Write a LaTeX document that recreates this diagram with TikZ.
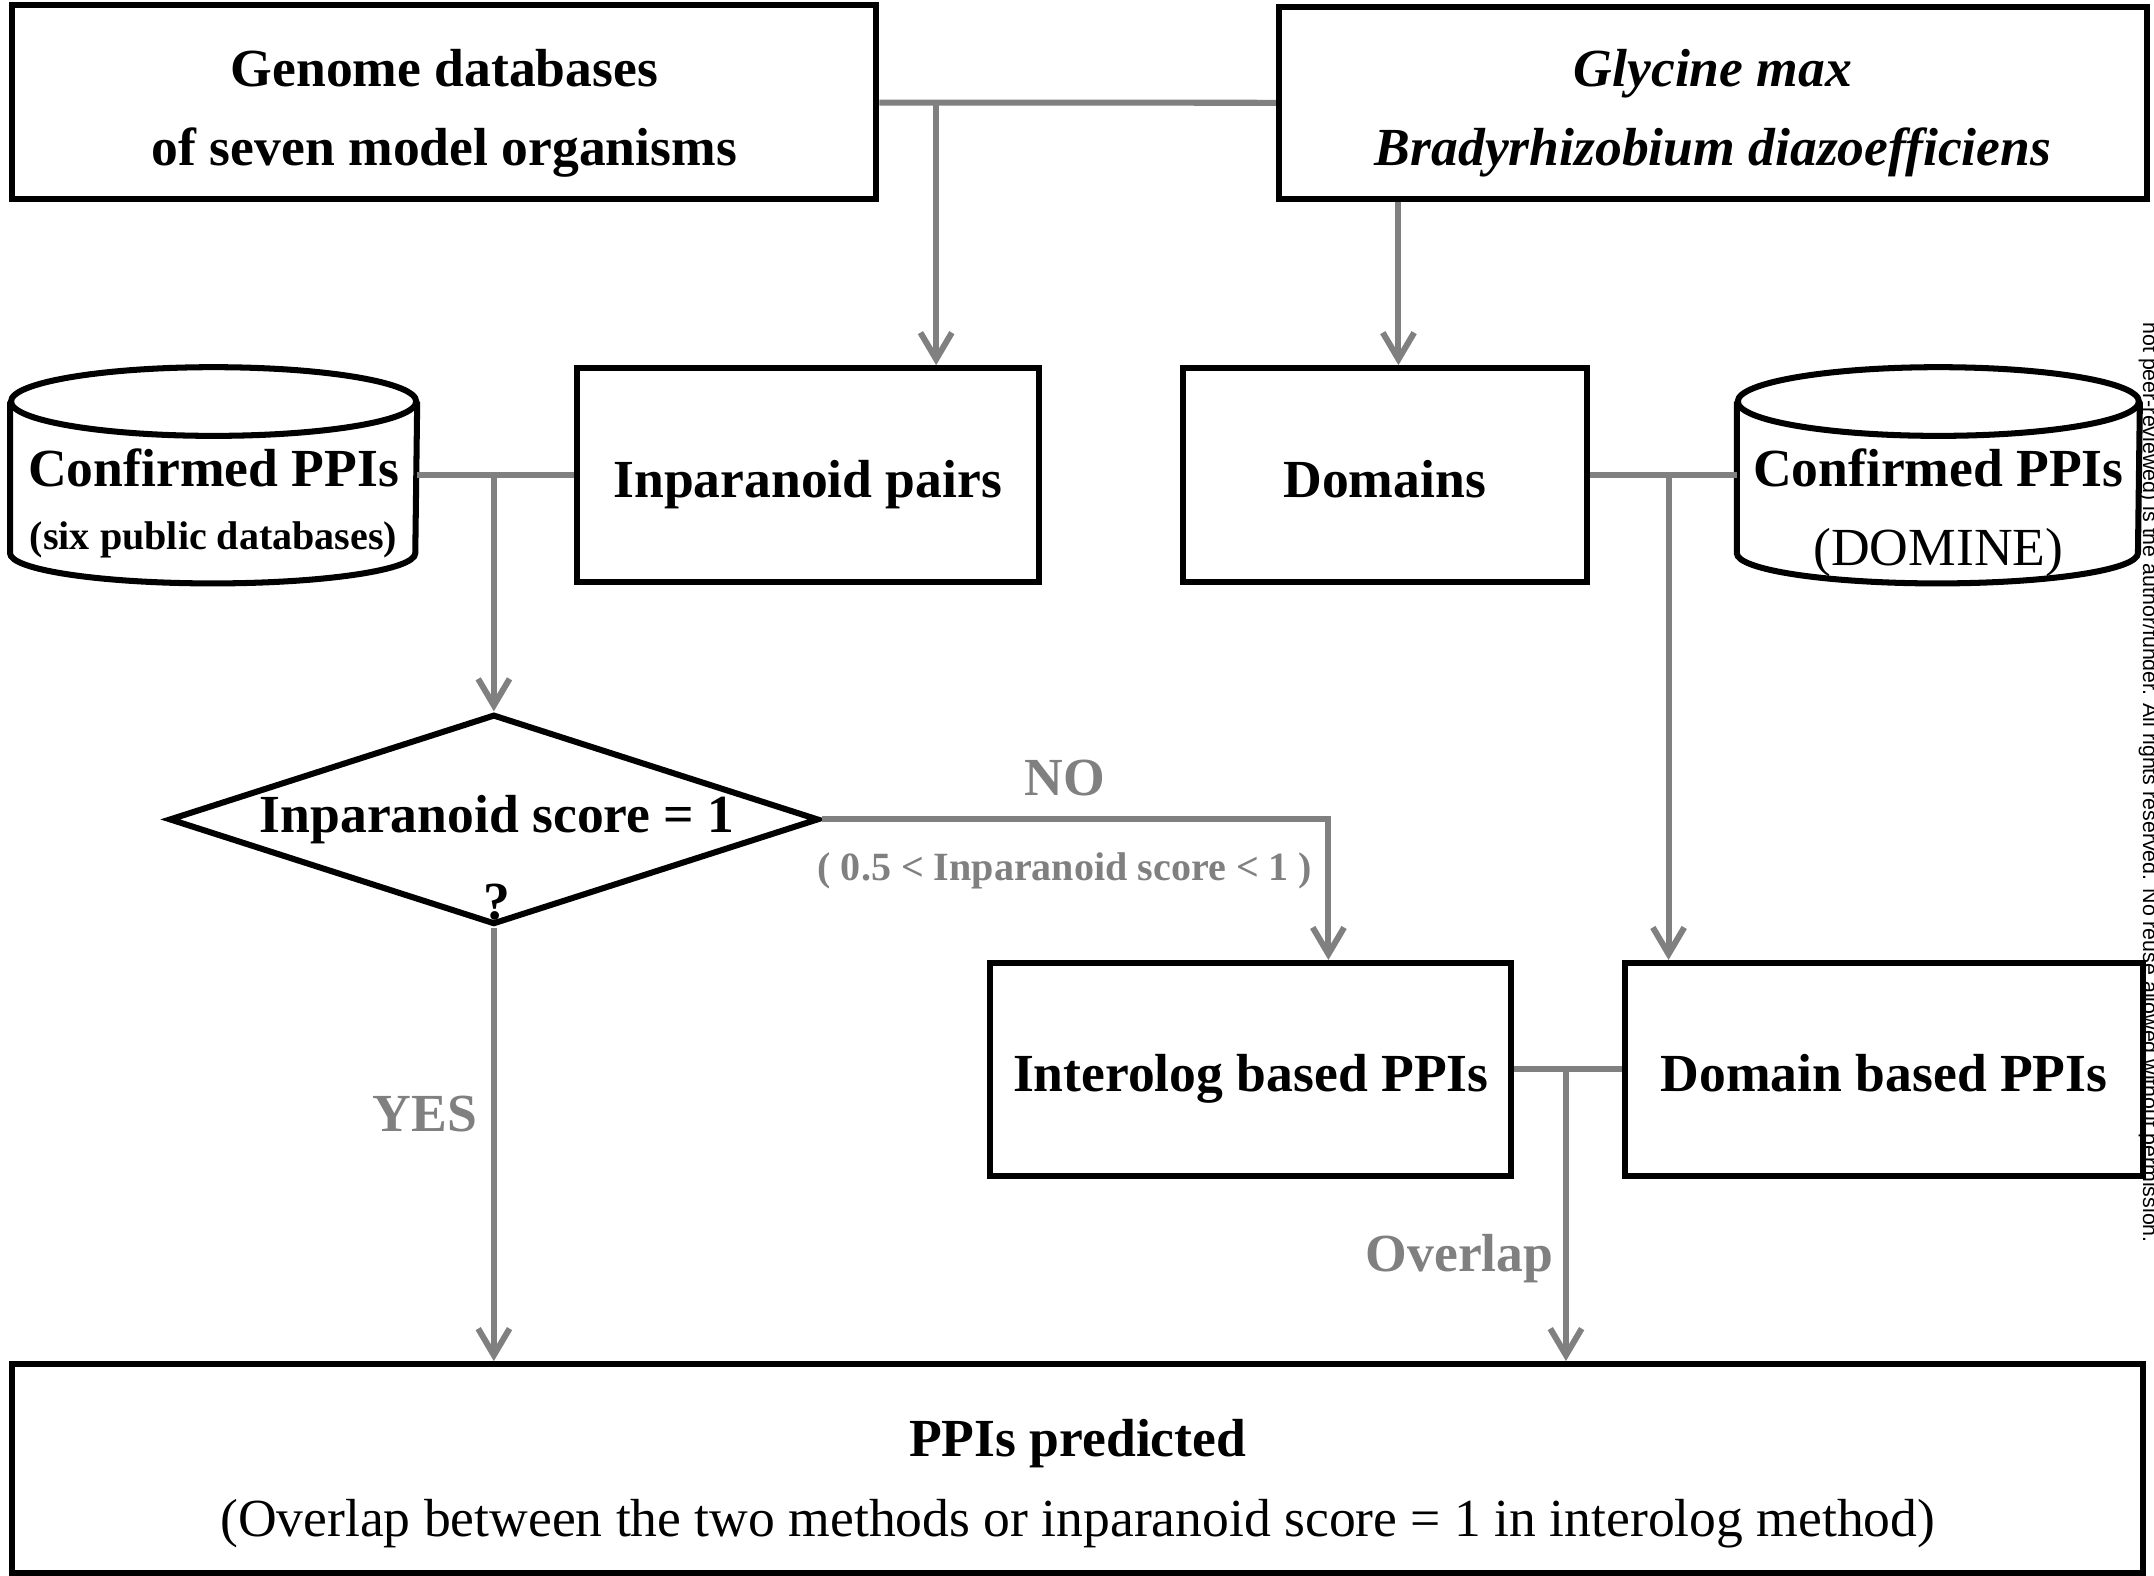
\documentclass[tikz,border=0pt]{standalone}
\usepackage{fontspec}
\setmainfont{Liberation Serif}
\newfontfamily\notefont{Liberation Sans}
\usetikzlibrary{arrows.meta,positioning,calc,shapes.geometric}
\definecolor{linkgray}{HTML}{808080}

\tikzset{
  frame/.style={draw=black, line width=1.25pt},
  box/.style={frame, rectangle, align=center, inner sep=0pt, text height=0.34cm, text depth=0.02cm, font=\bfseries\fontsize{11.1}{16.4}\selectfont},
  boxtext/.style={align=center, inner sep=0pt, font=\bfseries\fontsize{11.1}{16.4}\selectfont},
  decision/.style={frame, diamond, inner sep=0pt},
  link/.style={draw=linkgray, line width=1.25pt},
  flow/.style={link, ->},
  tag/.style={text=linkgray, inner sep=0pt, font=\bfseries\fontsize{11.1}{13}\selectfont},
  tagsmall/.style={text=linkgray, inner sep=0pt, font=\bfseries\fontsize{8.3}{10}\selectfont},
}

\begin{document}
\begin{tikzpicture}[>={Straight Barb[length=5.5pt,width=6.5pt]}, line join=miter]
    \useasboundingbox (0,0) rectangle (15.68,-11.47);
    % top row
    \node[box, minimum width=6.29cm, minimum height=1.41cm] (genome) at (3.235,-0.745) {};
    \node[boxtext] (genomeText) at ([yshift=-0.08cm]genome.center) {Genome databases\\of seven model organisms};
    \node[box, minimum width=6.32cm, minimum height=1.40cm] (glycine) at (12.47,-0.75) {};
    \node[boxtext] (glycineText) at ([yshift=-0.075cm]glycine.center) {{\itshape Glycine max}\\{\itshape Bradyrhizobium diazoefficiens}};
    % second row
    \node[minimum width=2.95cm, minimum height=1.56cm, inner sep=0pt] (cylL) at (1.555,-3.46) {};
    \node[box, minimum width=3.36cm, minimum height=1.56cm] (pairs) at (5.88,-3.46) {Inparanoid pairs};
    \node[box, minimum width=2.94cm, minimum height=1.56cm] (domains) at (10.08,-3.46) {Domains};
    \node[minimum width=2.92cm, minimum height=1.56cm, inner sep=0pt] (cylR) at (14.11,-3.46) {};
    \foreach \c/\r in {cylL/1.475,cylR/1.46} {
        \draw[frame] ([yshift=-0.25cm]\c.north west) -- ([yshift=0.22cm]\c.south west)
            arc[start angle=180, end angle=360, x radius=\r cm, y radius=0.22cm] -- ([yshift=-0.25cm]\c.north east);
        \draw[frame] ([yshift=-0.25cm]\c.north) ellipse[x radius=\r cm, y radius=0.25cm];
    }
    \node[font=\bfseries\fontsize{11.1}{13}\selectfont, anchor=base, inner sep=0pt] (cylLa) at (1.555,-3.54) {Confirmed PPIs};
    \node[font=\bfseries\fontsize{8.3}{10}\selectfont, anchor=base, inner sep=0pt] (cylLb) at (1.555,-4.00) {(six public databases)};
    \node[font=\bfseries\fontsize{11.1}{13}\selectfont, anchor=base, inner sep=0pt] (cylRa) at (14.11,-3.54) {Confirmed PPIs};
    \node[font=\fontsize{11.1}{13}\selectfont, anchor=base, inner sep=0pt] (cylRb) at (14.11,-4.12) {(DOMINE)};
    % decision
    \node[decision, minimum width=4.73cm, minimum height=1.53cm] (score) at (3.595,-5.965) {};
    \node[font=\bfseries\fontsize{11.1}{13}\selectfont, anchor=base, inner sep=0pt] (scorea) at (3.62,-6.06) {Inparanoid score = 1};
    \node[font=\bfseries\fontsize{11.1}{13}\selectfont, anchor=base, inner sep=0pt] (scoreb) at (3.62,-6.69) {?};
    % third row
    \node[box, minimum width=3.79cm, minimum height=1.55cm] (interolog) at (9.105,-7.785) {Interolog based PPIs};
    \node[box, minimum width=3.77cm, minimum height=1.55cm] (dombased) at (13.715,-7.785) {Domain based PPIs};
    % result
    \node[box, minimum width=15.51cm, minimum height=1.52cm] (predicted) at (7.845,-10.69) {};
    \node[boxtext] (predictedText) at ([yshift=-0.11cm]predicted.center) {PPIs predicted\\{\mdseries (Overlap between the two methods or inparanoid score = 1 in interolog method)}};
    % connectors
    \draw[link] (genome) -- (glycine);
    \coordinate (j1) at ($(genome.east)!0.143!(glycine.west)$);
    \draw[flow] (j1) -- (j1 |- pairs.north);
    \draw[flow] ([xshift=0.1cm]domains.north |- glycine.south) -- ([xshift=0.1cm]domains.north);
    \draw[link] (cylL) -- (pairs);
    \coordinate (j2) at (score.north |- cylL.east);
    \draw[flow] (j2) -- (score.north);
    \draw[link] (domains) -- (cylR);
    \coordinate (j3) at ($(domains.east)!0.536!(cylR.west)$);
    \draw[flow] (j3) -- (j3 |- dombased.north);
    \draw[flow] (score.east) -| ([xshift=0.565cm]interolog.north)
        node[tag, pos=0.24, above=0.15cm] (no) {NO}
        node[tagsmall, pos=0.24, below=0.22cm] (nocond) {( 0.5 < Inparanoid score < 1 )};
    \draw[flow] (score.south) -- (score.south |- predicted.north)
        node[tag, pos=0.43, left=0.1cm] (yes) {YES};
    \draw[link] (interolog) -- (dombased);
    \coordinate (j4) at ($(interolog.east)!0.48!(dombased.west)$);
    \draw[flow] (j4) -- (j4 |- predicted.north)
        node[tag, pos=0.65, left=0.07cm] (overlap) {Overlap};
    % side note
    \node[font=\notefont\fontsize{4.43}{5}\selectfont, rotate=-90, anchor=base west, inner sep=0pt] (note) at (15.60,-2.34) {not peer-reviewed) is the author/funder. All rights reserved. No reuse allowed without permission.};
\end{tikzpicture}
\end{document}
